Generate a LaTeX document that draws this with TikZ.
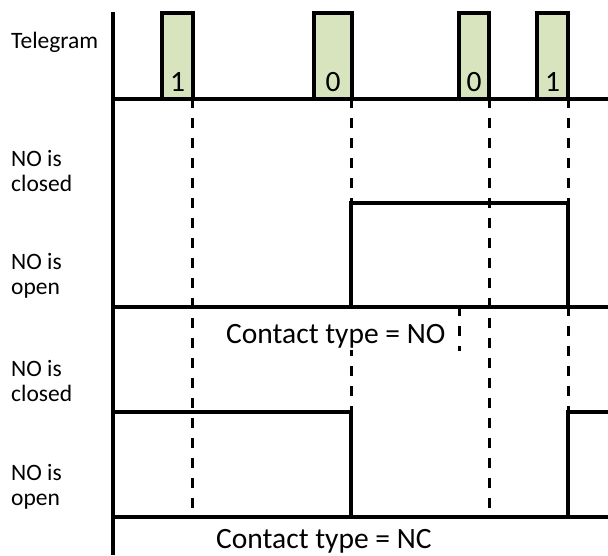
\documentclass[tikz,border=0pt]{standalone}
\usepackage{fontspec}
\setmainfont{Carlito}
\definecolor{pulsegreen}{HTML}{D7E4BD}
\tikzset{
  signal/.style={line width=3.4pt},
  marker/.style={line width=3pt, dash pattern=on 10pt off 10pt, dash phase=1pt},
  pulse/.style={draw, line width=3.4pt, fill=pulsegreen},
  rowlabel/.style={anchor=base west, align=left, inner sep=0pt, font=\fontsize{23.5}{25}\selectfont},
  bigtext/.style={inner sep=0pt, font=\fontsize{29.5}{31}\selectfont}
}

\begin{document}
\begin{tikzpicture}[x=1pt,y=-1pt]
  \useasboundingbox (0,0) rectangle (608,555);

  % row labels
  \node[rowlabel] (telegram) at (11,48) {Telegram};
  \node[rowlabel] (noclosed) at (11,191) {NO is\\closed};
  \node[rowlabel] (noopen) at (11,294) {NO is\\open};
  \node[rowlabel] (ncclosed) at (11,401) {NO is\\closed};
  \node[rowlabel] (ncopen) at (11,505) {NO is\\open};

  % telegram pulses
  \foreach \xa/\xb/\bit [count=\i] in {162/193/1, 314/352/0, 459/489/0, 537/568/1}{
    \draw[pulse] (\xa,99) rectangle (\xb,13);
    \node[bigtext, anchor=base] (bit\i) at ({(\xa+\xb)/2},91) {\bit};
  }

  % dashed markers
  \foreach \x in {192,489}
    \draw[marker] (\x,99) -- (\x,517);
  \foreach \x in {351,568}{
    \draw[marker] (\x,99) -- (\x,203);
    \draw[marker] (\x,307) -- (\x,412);
  }
  \draw[marker] (459,307) -- (459,351);

  % contact types
  \node[bigtext, anchor=base west, fill=white, text height=34.5pt, text depth=7pt] (notype) at (226,343) {Contact type = NO};
  \node[bigtext, anchor=base west] (nctype) at (216,548) {Contact type = NC};

  % axes
  \draw[signal] (113,12) -- (113,555);
  \draw[signal] (113,99) -- (608,99);
  \draw[signal] (113,307) -- (608,307);
  \draw[signal] (113,517) -- (608,517);

  % NO contact
  \draw[signal] (351,307) -- (351,203) -- (568,203) -- (568,307);
  % NC contact
  \draw[signal] (113,412) -- (351,412) -- (351,517);
  \draw[signal] (568,517) -- (568,412) -- (608,412);
\end{tikzpicture}
\end{document}
